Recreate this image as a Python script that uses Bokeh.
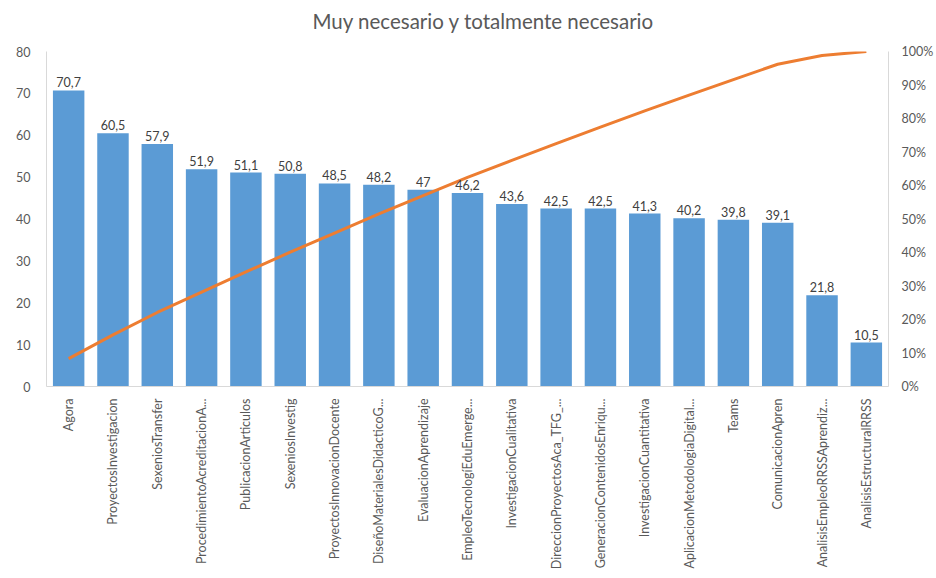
from bokeh.plotting import figure
from bokeh.models import ColumnDataSource, Range1d, LinearAxis, FixedTicker, PrintfTickFormatter, LabelSet, FactorRange
from bokeh.core.properties import value
from bokeh.embed import file_html
from bokeh.resources import INLINE
import math

title_text = "Muy necesario y totalmente necesario"
categories = [
    "Agora", "ProyectosInvestigacion", "SexeniosTransfer", "ProcedimientoAcreditacionA...",
    "PublicacionArticulos", "SexeniosInvestig", "ProyectosInnovacionDocente",
    "DiseñoMaterialesDidacticoG...", "EvaluacionAprendizaje", "EmpleoTecnologíEduEmerge...",
    "InvestigacionCualitativa", "DireccionProyectosAca_TFG_...", "GeneracionContenidosEnriqu...",
    "InvestigacionCuantitativa", "AplicacionMetodologiaDigital...", "Teams", "ComunicacionApren",
    "AnalisisEmpleoRRSSAprendiz...", "AnalisisEstructuralRRSS",
]
values = [70.7, 60.5, 57.9, 51.9, 51.1, 50.8, 48.5, 48.2, 47.0, 46.2, 43.6, 42.5, 42.5,
          41.3, 40.2, 39.8, 39.1, 21.8, 10.5]
value_labels = ["70,7", "60,5", "57,9", "51,9", "51,1", "50,8", "48,5", "48,2", "47", "46,2",
                "43,6", "42,5", "42,5", "41,3", "40,2", "39,8", "39,1", "21,8", "10,5"]
cumulative_pct = [8.3, 15.4, 22.1, 28.2, 34.2, 40.1, 45.8, 51.5, 57.0, 62.4, 67.5, 72.5,
                  77.4, 82.3, 87.0, 91.6, 96.2, 98.8, 100.0]
left_ticks = [0, 10, 20, 30, 40, 50, 60, 70, 80]
right_ticks = [0, 10, 20, 30, 40, 50, 60, 70, 80, 90, 100]

FONT = "Lato"
TXT = "#595959"
AXIS_LINE = "#D9D9D9"

src = ColumnDataSource(dict(cat=categories, val=values, lab=value_labels, cum=cumulative_pct))

p = figure(width=936, height=578, x_range=FactorRange(*categories, range_padding=0),
           y_range=Range1d(0, 80), output_backend="svg", toolbar_location=None,
           min_border_left=46, min_border_right=40, min_border_top=51, min_border_bottom=192,
           title=title_text)
p.extra_y_ranges = {"pct": Range1d(0, 100)}

p.title.align = "left"
p.title.offset = 266
p.title.vertical_align = "top"
p.title.text_font = FONT
p.title.text_font_size = "20.5px"
p.title.text_font_style = "normal"
p.title.text_color = TXT
p.title.standoff = 10
p.title.padding = dict(left=0, right=0, top=0, bottom=12)

p.outline_line_color = None
p.xgrid.visible = False
p.ygrid.visible = False

p.vbar(x="cat", top="val", width=0.71, source=src, color="#5B9BD5", line_color=None)
p.line(x="cat", y="cum", source=src, y_range_name="pct", line_color="#ED7D31", line_width=3)

labels = LabelSet(x="cat", y="val", text="lab", source=src, text_align="center",
                  text_baseline="bottom", y_offset=3, text_font=value(FONT),
                  text_font_size=value("12.5px"), text_color=value("#404040"))
p.add_layout(labels)

def style(ax):
    ax.axis_line_color = AXIS_LINE
    ax.major_tick_line_color = None
    ax.minor_tick_line_color = None
    ax.major_label_text_font = FONT
    ax.major_label_text_font_size = "12.5px"
    ax.major_label_text_color = TXT

p.yaxis.ticker = FixedTicker(ticks=left_ticks)
style(p.yaxis[0])
p.yaxis[0].major_label_standoff = 10

style(p.xaxis[0])
p.xaxis[0].major_label_orientation = math.pi / 2
p.xaxis[0].major_label_standoff = 6

ax2 = LinearAxis(y_range_name="pct", ticker=FixedTicker(ticks=right_ticks),
                 formatter=PrintfTickFormatter(format="%d%%"))
style(ax2)
ax2.major_label_standoff = 7
p.add_layout(ax2, "right")

open("out.html", "w").write(file_html(p, INLINE))
